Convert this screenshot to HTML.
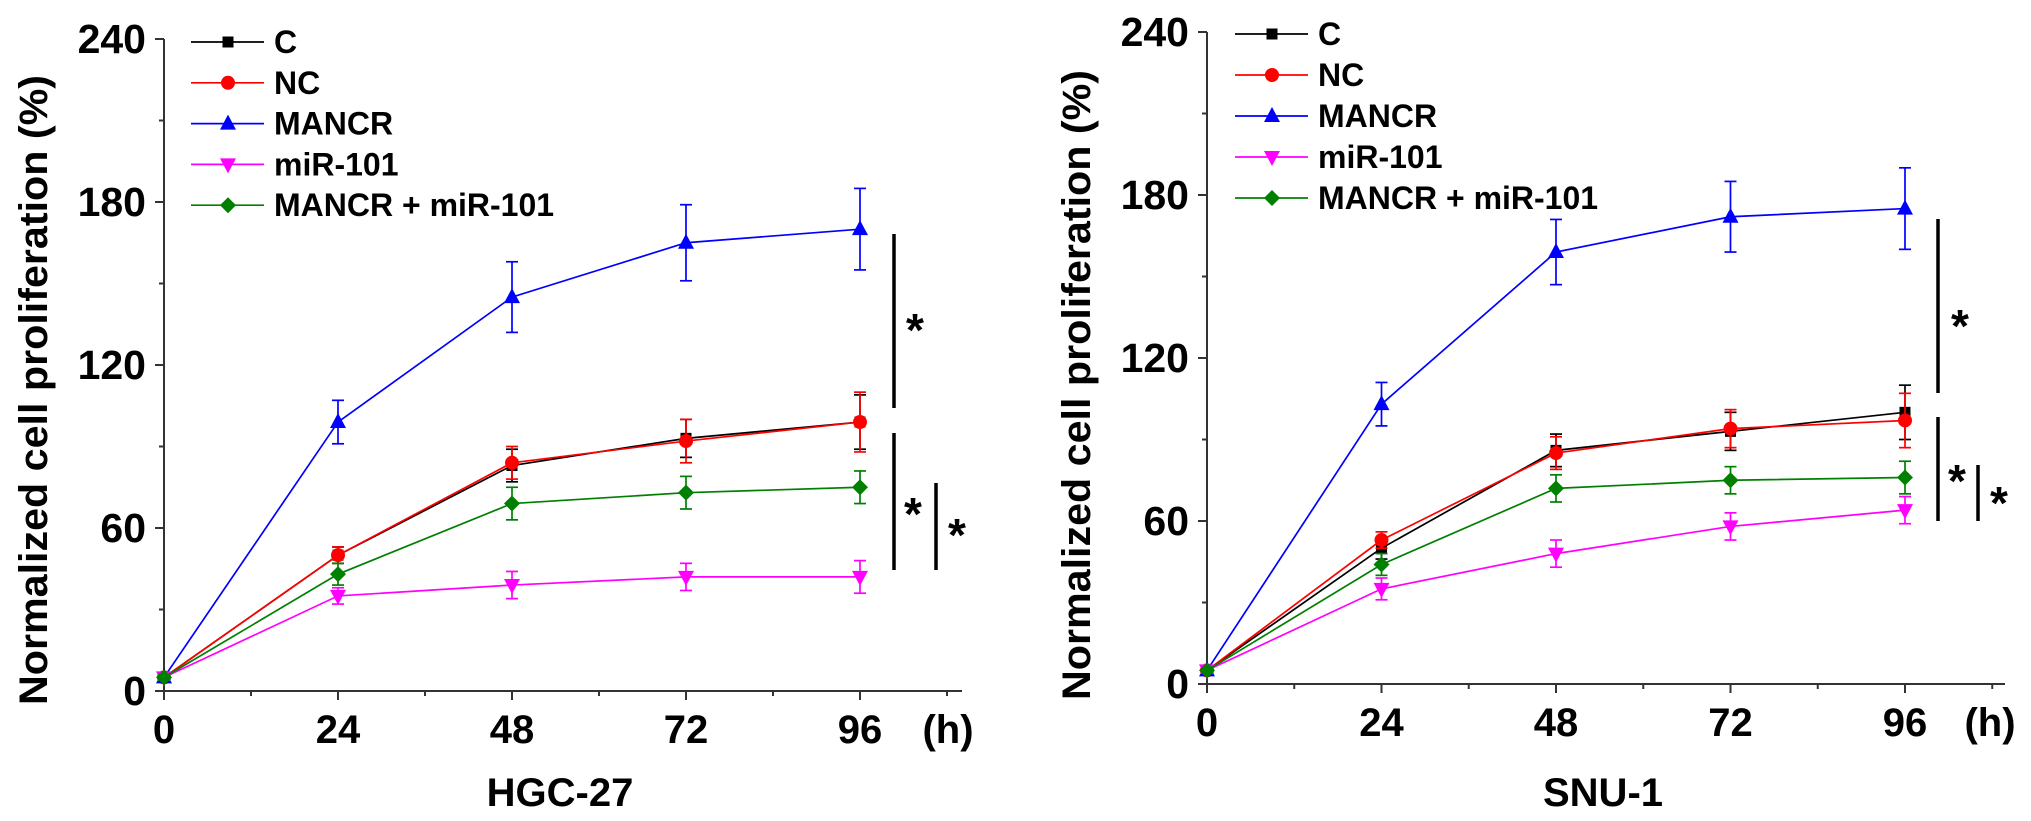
<!DOCTYPE html>
<html><head><meta charset="utf-8"><style>
html,body{margin:0;padding:0;background:#fff;}
svg{display:block;font-family:"Liberation Sans",Arial,sans-serif;font-weight:bold;}
</style></head><body>
<svg id="fig" width="2031" height="821" viewBox="0 0 2031 821"></svg>
<script>
const times = [0, 24, 48, 72, 96];
const seriesNames = ["C", "NC", "MANCR", "miR-101", "MANCR + miR-101"];
const seriesColors = ["#000000", "#ff0000", "#0000ff", "#ff00ff", "#008000"];
const yTicks = [0, 60, 120, 180, 240];
const xTicks = [0, 24, 48, 72, 96];
// HGC-27
const hgcC = [5, 50, 83, 93, 99];
const hgcNC = [5, 50, 84, 92, 99];
const hgcMANCR = [5, 99, 145, 165, 170];
const hgcMiR = [5, 35, 39, 42, 42];
const hgcCombo = [5, 43, 69, 73, 75];
const hgcCErr = [1, 3, 6, 7, 10];
const hgcNCErr = [1, 3, 6, 8, 11];
const hgcMANCRErr = [1, 8, 13, 14, 15];
const hgcMiRErr = [1, 3, 5, 5, 6];
const hgcComboErr = [1, 4, 6, 6, 6];
// SNU-1
const snuC = [5, 50, 86, 93, 100];
const snuNC = [5, 53, 85, 94, 97];
const snuMANCR = [5, 103, 159, 172, 175];
const snuMiR = [5, 35, 48, 58, 64];
const snuCombo = [5, 44, 72, 75, 76];
const snuCErr = [1, 4, 6, 7, 10];
const snuNCErr = [1, 3, 6, 7, 10];
const snuMANCRErr = [1, 8, 12, 13, 15];
const snuMiRErr = [1, 4, 5, 5, 5];
const snuComboErr = [1, 4, 5, 5, 6];

const NS = "http://www.w3.org/2000/svg";
const svg = document.getElementById("fig");
function mk(tag, attrs, parent, text) {
  const e = document.createElementNS(NS, tag);
  for (const k in attrs) e.setAttribute(k, attrs[k]);
  if (text !== undefined) e.textContent = text;
  (parent || svg).appendChild(e);
  return e;
}
function marker(g, kind, cx, cy, color) {
  let m;
  if (kind === 0) m = mk("rect", {x: cx-5.5, y: cy-5.5, width: 11, height: 11, fill: color}, g);
  else if (kind === 1) m = mk("circle", {cx: cx, cy: cy, r: 7, fill: color}, g);
  else if (kind === 2) m = mk("polygon", {points: `${cx},${cy-9} ${cx+8},${cy+6} ${cx-8},${cy+6}`, fill: color}, g);
  else if (kind === 3) m = mk("polygon", {points: `${cx},${cy+9} ${cx+8},${cy-6} ${cx-8},${cy-6}`, fill: color}, g);
  else m = mk("polygon", {points: `${cx},${cy-8} ${cx+8},${cy} ${cx},${cy+8} ${cx-8},${cy}`, fill: color}, g);
  return m;
}

function drawPanel(cfg) {
  const g = mk("g", {});
  
  
  const X = v => cfg.x0 + (v / 96) * (cfg.x96 - cfg.x0);
  const Y = v => cfg.y0 - (v / 240) * (cfg.y0 - cfg.y240);
  const ax = mk("g", {stroke: "#333", "stroke-width": 2}, g);
  
  
  mk("line", {x1: cfg.x0, y1: Y(240), x2: cfg.x0, y2: cfg.y0}, ax);
  mk("line", {x1: cfg.x0, y1: cfg.y0, x2: cfg.xEnd, y2: cfg.y0}, ax);
  for (let v = 0; v <= 240; v += 30) {
    const major = yTicks.indexOf(v) >= 0;
    mk("line", {x1: cfg.x0 - (major ? 9 : 5), y1: Y(v), x2: cfg.x0, y2: Y(v)}, ax);
  }
  for (let t = 0; X(t) <= cfg.xEnd + 1; t += 12) {
    const major = xTicks.indexOf(t) >= 0;
    mk("line", {x1: X(t), y1: cfg.y0, x2: X(t), y2: cfg.y0 + (major ? 9 : 5)}, ax);
  }
  yTicks.forEach(v => {
    const t = mk("text", {x: cfg.x0 - 18, y: Y(v) + 14, "text-anchor": "end", "font-size": 41}, g, String(v));
    
    
  });
  xTicks.forEach(v => {
    const t = mk("text", {x: X(v), y: cfg.y0 + 52, "text-anchor": "middle", "font-size": 40}, g, String(v));
    
    
  });
  const hu = mk("text", {x: cfg.hX, y: cfg.y0 + 52, "text-anchor": "middle", "font-size": 40}, g, "(h)");
  
  
  const xt = mk("text", {x: cfg.titleX, y: 806, "text-anchor": "middle", "font-size": 40}, g, cfg.title);
  
  
  const yt = mk("text", {x: 0, y: 0, "text-anchor": "middle", "font-size": 40, textLength: 630, lengthAdjust: "spacingAndGlyphs", transform: `translate(${cfg.yTitleX},${cfg.yTitleY}) rotate(-90)`}, g, "Normalized cell proliferation (%)");
  
  
  cfg.series.forEach((s, i) => {
    const sg = mk("g", {}, g);
    
    
    const col = seriesColors[i];
    const pts = s.vals.map((v, j) => X(times[j]) + "," + Y(v)).join(" ");
    mk("polyline", {points: pts, fill: "none", stroke: col, "stroke-width": 1.7}, sg);
    s.vals.forEach((v, j) => {
      const x = X(times[j]), e = s.err[j];
      mk("line", {x1: x, y1: Y(v + e), x2: x, y2: Y(v - e), stroke: col, "stroke-width": 1.7}, sg);
      mk("line", {x1: x - 6, y1: Y(v + e), x2: x + 6, y2: Y(v + e), stroke: col, "stroke-width": 1.7}, sg);
      mk("line", {x1: x - 6, y1: Y(v - e), x2: x + 6, y2: Y(v - e), stroke: col, "stroke-width": 1.7}, sg);
      const m = marker(sg, i, x, Y(v), col);
      
      
    });
  });
  const lg = mk("g", {}, g);
  
  
  seriesNames.forEach((n, i) => {
    const y = cfg.legY + i * cfg.legStep;
    const eg = mk("g", {}, lg);
    
    
    mk("line", {x1: cfg.legX, y1: y, x2: cfg.legX + 73, y2: y, stroke: seriesColors[i], "stroke-width": 1.7}, eg);
    marker(eg, i, cfg.legX + 37, y, seriesColors[i]);
    mk("text", {x: cfg.legX + 83, y: y + 11, "font-size": 32}, eg, n);
  });
  const sig = mk("g", {}, g);
  
  
  cfg.sig.forEach(b => {
    mk("line", {x1: b[0], y1: b[1], x2: b[0], y2: b[2], stroke: "#000", "stroke-width": 3.5}, sig);
    mk("text", {x: b[3], y: b[4] + 22, "text-anchor": "middle", "font-size": 46}, sig, "*");
  });
}

drawPanel({name: "panel-hgc27", title: "HGC-27", x0: 164, x96: 860, xEnd: 962, hX: 948,
  y0: 691, y240: 39, titleX: 560, yTitleX: 47, yTitleY: 390, legX: 191, legY: 42, legStep: 40.8,
  series: [{vals: hgcC, err: hgcCErr}, {vals: hgcNC, err: hgcNCErr}, {vals: hgcMANCR, err: hgcMANCRErr}, {vals: hgcMiR, err: hgcMiRErr}, {vals: hgcCombo, err: hgcComboErr}],
  sig: [[894, 234, 408, 915, 324], [894, 433, 570, 913, 508], [936, 483, 570, 957, 529]]});
drawPanel({name: "panel-snu1", title: "SNU-1", x0: 1207, x96: 1905, xEnd: 2005, hX: 1990,
  y0: 684, y240: 32, titleX: 1603, yTitleX: 1090, yTitleY: 385, legX: 1235, legY: 34, legStep: 41,
  series: [{vals: snuC, err: snuCErr}, {vals: snuNC, err: snuNCErr}, {vals: snuMANCR, err: snuMANCRErr}, {vals: snuMiR, err: snuMiRErr}, {vals: snuCombo, err: snuComboErr}],
  sig: [[1938, 219, 393, 1960, 320], [1938, 417, 521, 1957, 475], [1978, 465, 521, 1999, 497]]});
</script>
</body></html>
